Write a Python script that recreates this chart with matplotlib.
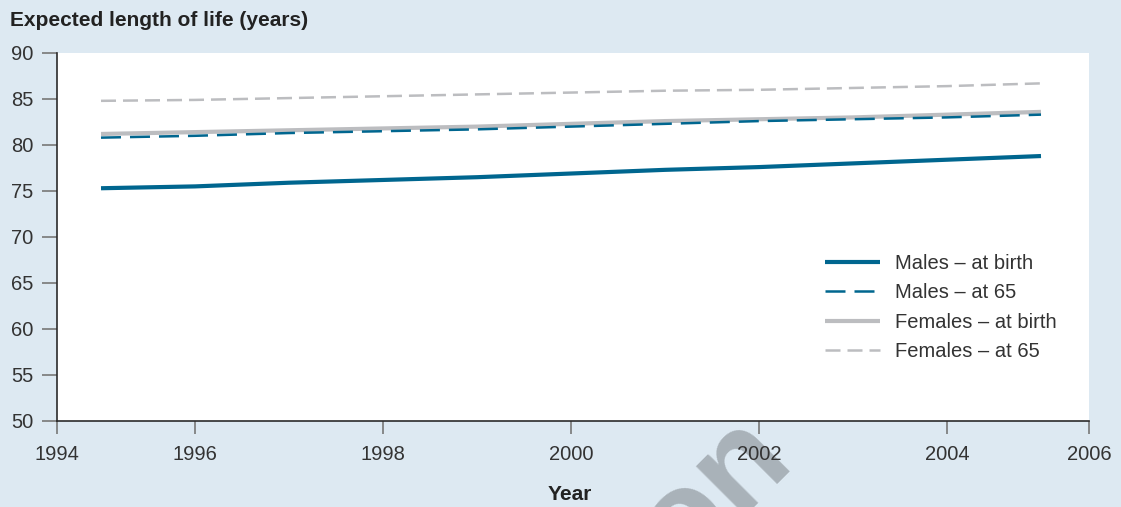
import matplotlib
matplotlib.use("Agg")
import matplotlib.pyplot as plt

# ---- data ----
years = [1995, 1996, 1997, 1998, 1999, 2000, 2001, 2002, 2003, 2004, 2005]
males_birth = [75.3, 75.5, 75.9, 76.2, 76.5, 76.9, 77.3, 77.6, 78.0, 78.4, 78.8]
males_65 = [80.8, 81.0, 81.3, 81.5, 81.7, 82.0, 82.3, 82.6, 82.8, 83.0, 83.3]
females_birth = [81.2, 81.4, 81.6, 81.8, 82.0, 82.3, 82.6, 82.8, 83.0, 83.3, 83.6]
females_65 = [84.8, 84.9, 85.1, 85.3, 85.5, 85.7, 85.9, 86.0, 86.2, 86.4, 86.7]
series_labels = ["Males \u2013 at birth", "Males \u2013 at 65",
                 "Females \u2013 at birth", "Females \u2013 at 65"]
x_tick_labels = ["1994", "1996", "1998", "2000", "2002", "2004", "2006"]
y_ticks = [50, 55, 60, 65, 70, 75, 80, 85, 90]

BLUE = "#00668f"
GREY = "#bcbdc0"
BG = "#dde9f2"
TXT = "#333333"

plt.rcParams["font.family"] = ["Liberation Sans", "DejaVu Sans"]

W, H = 1121, 507
fig = plt.figure(figsize=(W / 100, H / 100), dpi=100, facecolor=BG)

# watermark (mostly hidden behind the plot area)
fig.text(794 / W, 1 - 459 / H, "Pearson", fontsize=94, fontweight="bold",
         color="#a9b2b9", rotation=45, rotation_mode="anchor",
         ha="right", va="baseline", zorder=-1)

L, R, T, B = 57, 1089, 53, 421
ax = fig.add_axes([L / W, 1 - B / H, (R - L) / W, (B - T) / H])
ax.set_facecolor("white")

ax.plot(years, males_birth, color=BLUE, lw=3.0, solid_capstyle="butt",
        label=series_labels[0], zorder=3)
ax.plot(years, males_65, color=BLUE, lw=1.8, dashes=(8, 3.6),
        label=series_labels[1], zorder=4)
ax.plot(years, females_birth, color=GREY, lw=3.0, solid_capstyle="butt",
        label=series_labels[2], zorder=2)
ax.plot(years, females_65, color=GREY, lw=1.8, dashes=(6, 2.8),
        label=series_labels[3], zorder=2)

x0 = 1995 - 44 / 94
x1 = 2004 + 142 / 94
ax.set_xlim(x0, x1)
ax.set_ylim(50, 90)
ax.set_xticks([x0, 1996, 1998, 2000, 2002, 2004, x1])
ax.set_xticklabels(x_tick_labels)
ax.set_yticks(y_ticks)

for s in ["top", "right"]:
    ax.spines[s].set_visible(False)
for s in ["left", "bottom"]:
    ax.spines[s].set_color("#2b2b2b")
    ax.spines[s].set_linewidth(1.2)

ax.tick_params(axis="y", direction="out", length=11, width=1.2,
               color="#777777", labelsize=14.5, labelcolor=TXT, pad=6)
ax.tick_params(axis="x", direction="out", length=9, width=1.2,
               color="#777777", labelsize=14.5, labelcolor=TXT, pad=8)

leg = ax.legend(loc="upper left", bbox_to_anchor=(825 / W, 1 - 254 / H),
                bbox_transform=fig.transFigure, frameon=False,
                fontsize=14.5, handlelength=2.74, handletextpad=0.72,
                labelspacing=0.52, borderpad=0, borderaxespad=0)
for t in leg.get_texts():
    t.set_color(TXT)

fig.text(10 / W, 1 - 21 / H, "Expected length of life (years)",
         fontsize=15, fontweight="bold", color="#222222",
         ha="left", va="center")
fig.text(570 / W, 1 - 494 / H, "Year", fontsize=15, fontweight="bold",
         color="#222222", ha="center", va="center")

fig.savefig("out.png", dpi=100, facecolor=BG)
